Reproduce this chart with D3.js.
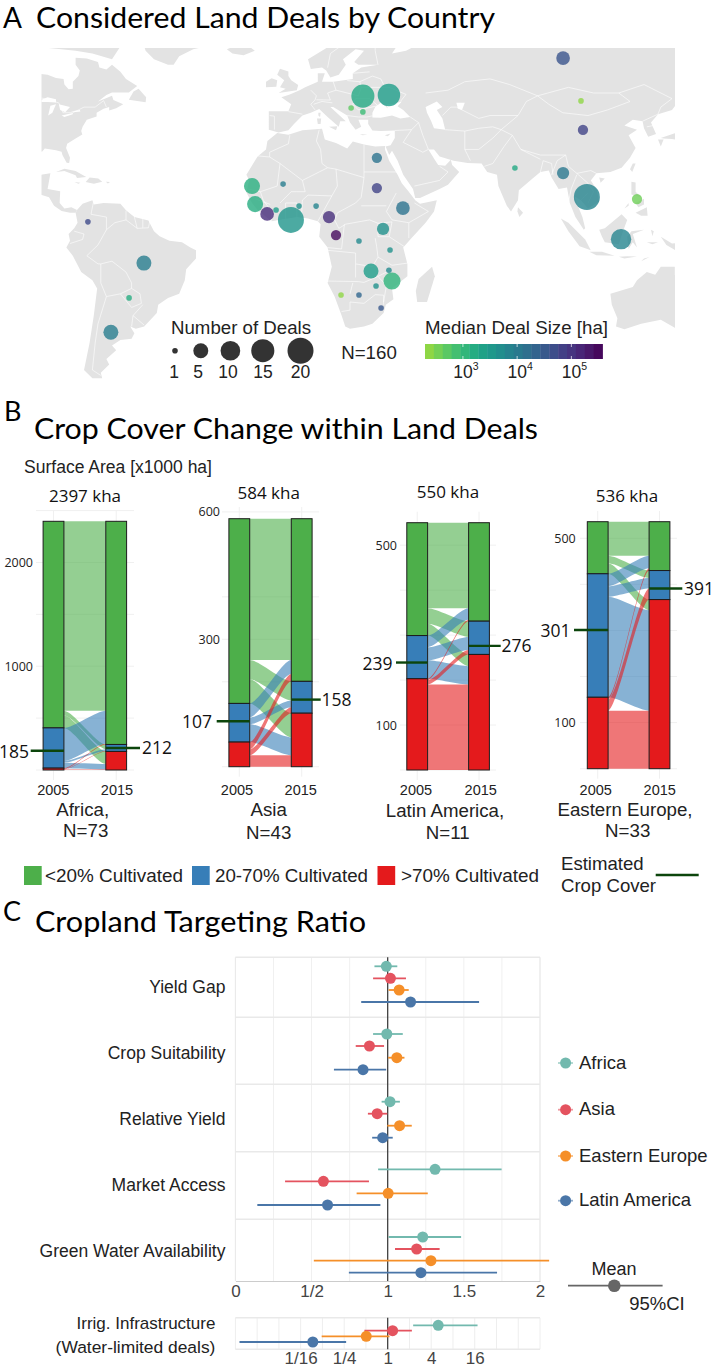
<!DOCTYPE html>
<html><head><meta charset="utf-8">
<script src="https://cdn.jsdelivr.net/npm/d3@7"></script>
<style>html,body{margin:0;padding:0;background:#fff}svg{display:block}</style>
</head><body><div id="chart"></div>
<script>
// ---------- PANEL A DATA ----------
const countries=["Russia","Mongolia","China","Ukraine","Romania","Serbia","Bulgaria","Egypt","Sudan","India","Myanmar","Cambodia","Philippines","Indonesia","Senegal","Mali","Sierra Leone","Liberia","Cote d'Ivoire","Ghana","Burkina Faso","Nigeria","Cameroon","Gabon","DR Congo","Ethiopia","Uganda","Tanzania","Zambia","Malawi","Mozambique","Zimbabwe","Namibia","Botswana","South Africa","Colombia","Brazil","Paraguay","Argentina"];
const lons=[96.1,102.5,103.2,33.9,24.6,20.4,24.6,29.6,29.6,78.9,96.1,104.6,122.5,116.8,-15,-3.9,-13.9,-9.6,-6.4,-1.1,1.8,7.9,12.5,15,23.2,38.9,31.8,34.3,27.5,33.9,35,29.3,16.8,23.2,31.1,-73.6,-53.6,-58.9,-65.4];
const lats=[62.4,47.2,36.9,49.3,48.9,44.7,43.3,27,16.3,23.4,21.6,13.1,12.4,-1.9,17,17.7,10.6,7.1,8.5,5,9.9,9.9,6,-0.4,-2.6,9.2,1.8,-5.9,-13.6,-13.3,-17.3,-19.1,-22.4,-22.4,-27.2,4.3,-10.7,-23.5,-36.1];
const dealCounts=[4,1,2,14,15,1,1,2,2,1,3,20,2,11,6,1,6,4,1,20,1,1,3,2,1,4,3,1,5,1,7,1,1,1,1,1,5,1,5];
const medianHa=[38000,240,63000,2800,1800,480,900,12800,63000,1800,10700,6900,370,6900,1400,9000,1500,128000,2800,3700,4400,6900,117000,285000,5800,12800,4400,4400,2800,5800,1170,4400,240,20000,34000,52000,9000,1500,9000];
const sizeLegend=[1,5,10,15,20];
const colorTicks=[1000,10000,100000];
const colorExponents=[3,4,5];

// ---------- BASE MAP (lon, lat) ----------
const landShapes=[
[[-100,66],[-93,62],[-94,59],[-92.5,57],[-88,56.5],[-85,55.3],[-82.3,55],[-82,53],[-80.5,51.3],[-79,51.5],[-79,54],[-77,56],[-76.5,58],[-78,60],[-78,62.5],[-74,62.2],[-70,61],[-69.5,59],[-67,58.3],[-65,60],[-62,57.5],[-60,55],[-56,52.5],[-59,50.2],[-65,50.2],[-67,49.3],[-70,47],[-65,49],[-64.5,47.5],[-61,46],[-63.5,44.6],[-66,43.8],[-66,45],[-68,44.4],[-70.5,43],[-70.5,41.7],[-74,40.5],[-75.5,38],[-76,36.5],[-75.6,35.3],[-78,33.9],[-81,32],[-81.4,30.5],[-80,27],[-80.3,25.2],[-81.2,25.3],[-82.7,28],[-83,29.2],[-85,29.7],[-89,30.3],[-90,29.2],[-94,29.6],[-97.3,27.5],[-97.8,22.5],[-95.5,19],[-91.5,18.5],[-90.5,21],[-87,21.5],[-88,16],[-83.5,15.2],[-83.7,11],[-82,9],[-79.5,9.5],[-77.5,8.5],[-78,7.5],[-80,7.5],[-83,8.2],[-85.7,10],[-87.5,13],[-92,14.5],[-96,16],[-105,20],[-110,30],[-125,50],[-125,66]],
[[-95,66],[-87,70],[-75,72],[-62,66.5],[-65,62],[-72,64],[-78,65],[-88,66]],
[[-59,47.6],[-53,46.7],[-52.8,48.5],[-55.5,51.5],[-57.3,50.5]],
[[-54,68],[-53,65],[-50,62],[-45,60],[-43,60],[-41,63],[-36,65.5],[-25,68],[-20,72],[-50,72]],
[[-24,65.5],[-22,64],[-18,63.4],[-14,65],[-16,66.5],[-22,66.3]],
[[-85,22],[-82,23.1],[-78,22.3],[-74.2,20.2],[-77.5,19.9],[-78,20.8],[-82,22.3]],
[[-74.4,18.4],[-73,20],[-69.9,19.7],[-68.5,18.5],[-71.5,17.8]],
[[-78.4,18.4],[-76.3,18.2],[-77,17.8]],[[-67.2,18.5],[-65.7,18.4],[-66.5,17.9]],
[[-77.5,8.5],[-75.5,10.7],[-72,12],[-71.5,10.5],[-68,11],[-62,10.7],[-60,8.4],[-57,6],[-52,4.8],[-50,1],[-48,-0.8],[-44.5,-2.5],[-40,-3],[-37,-5],[-35,-6],[-35,-9],[-38.5,-13],[-39,-17],[-41,-22],[-45,-23.5],[-48.5,-26],[-49,-29],[-53.5,-34],[-56.5,-34.8],[-58.5,-34],[-57,-36.5],[-58,-38.5],[-62,-39],[-65,-41],[-63.5,-42.7],[-67,-46],[-66,-48],[-69,-51],[-68.5,-53],[-72,-53],[-75,-50],[-74,-45],[-73,-40],[-71.5,-30],[-70.3,-20],[-72,-17],[-76,-14],[-79,-8],[-81.3,-5],[-80,-2.5],[-80.5,0],[-78.5,2],[-77.3,4],[-78,7.5]],
[[-6,35.8],[-2,35.2],[3,36.8],[10,37.3],[11,33.5],[15,32.3],[19,30.3],[21,32.8],[25,31.7],[29,31],[32.5,31.2],[32.5,30],[34,26],[37,21],[38.5,18],[41,15],[43.3,12],[45,10.7],[51,12],[50,8],[47,4],[42,-1.5],[39,-5],[40.5,-11],[40.5,-15.5],[35,-20],[35.5,-24],[32.8,-26],[32,-29],[28,-33],[25,-34],[20,-34.8],[18.3,-34],[17,-30],[14.5,-23],[12,-18],[13.5,-12],[12,-5],[9,-1],[9.5,3.5],[8.5,4.5],[5,5.5],[1,6],[-4,5.2],[-8,4.5],[-13,8.5],[-15,11],[-17,14.7],[-16,19],[-17,21],[-13,27.5],[-10,30],[-9.5,33]],
[[-5.5,36],[-2,36.8],[0,39],[3,42],[6,43],[9,44.3],[12,41.5],[16,38],[16.5,40],[18.5,40],[13,45],[14,45],[19,42],[20,39.5],[22,37],[24,38],[23,40.5],[26.5,40.5],[26.5,39],[28,36.7],[31,36.5],[36,36.7],[36,34],[34.5,31.5],[32.7,31],[34,28],[35,29.5],[37,26],[39,21],[42.5,16],[43.3,12.8],[45,12.8],[52,16],[55,17.5],[59,22],[56.5,24.5],[56,26.3],[54,24.2],[51.5,24.5],[50.5,26],[48,30],[50,30],[52,27.5],[57,26],[62,25.2],[67,25],[69,22],[72.5,21],[73,17],[76,10],[77.5,8],[80,12],[80.3,15.5],[85,19.5],[88,22],[91,22.5],[92,20],[94.5,16],[97.5,16.5],[98.5,11],[100.5,6],[103.5,1.5],[104,2],[103,6],[100,13.5],[102.5,12],[105,9],[109,11.5],[108,16],[106,19],[108,21.5],[113,22],[117,23.5],[120,27],[122,30.5],[119.5,35],[122.5,37],[118,38.5],[121,40.5],[124.5,40],[125,37.5],[126.5,34.5],[129.3,35.5],[127.5,39.5],[130,42.5],[135,44],[142,53],[140,60],[150,60],[160,62],[180,66],[180,75],[110,77],[70,73],[55,68],[44,67],[40,65],[35,64],[37,67],[41,66.5],[33,69.5],[25,71],[15,68],[5,62],[6,58.5],[10,59],[11.5,58],[13,55.5],[16,56.5],[18.5,60],[17.5,62],[22,65.5],[25,65],[21.5,61],[23,60],[30,60],[24,59],[21,57],[21,55],[14,54],[10,54],[11,57],[8.5,57],[8.5,54],[4,52],[2,51],[-1.5,49.5],[-4.5,48.5],[-1,46],[-2,43.5],[-9,43.5],[-9,37]],
[[-5.5,50],[1,51],[1.5,52.8],[-1,54.5],[-2,56],[-2,57.6],[-5,58.6],[-6,56.5],[-3.5,54.5],[-5,52],[-3,51.5]],
[[-10,52],[-6.3,52.2],[-6,54.5],[-8,55.2],[-10,54]],
[[12.5,38],[15.5,38.2],[15,36.8]],[[8.2,41],[9.7,41],[9.5,39],[8.5,39]],[[8.7,43],[9.5,43],[9.3,41.5],[8.7,42]],
[[23.5,35.5],[26.2,35.2],[24.5,35]],[[32.4,35],[34.5,35.6],[33.5,34.7]],
[[95.3,5.5],[98,4],[104,-2],[106,-6],[102,-4.5],[98,1]],
[[105.5,-6.5],[110,-6.5],[114.5,-8],[108,-7.8]],[[116,-8.4],[119,-8.2],[122.5,-8.3],[118,-9]],
[[109,1.5],[111,2],[114,4.5],[117,7],[119,5],[117.5,1],[116,-3.8],[111,-3],[110,-1]],
[[119.5,-5.5],[119,-1],[120.5,1],[125,1.5],[121,0],[122.5,-5],[121,-3]],
[[120.5,18.5],[122,18.3],[122,15],[124,13],[120.5,14]],[[122,7.5],[126,9.5],[126.3,6.5],[124,6.5]],[[122,11],[125,12.5],[125,10.5],[123,9.5]],[[118,9],[119.5,11],[119.5,10]],
[[127.5,1.5],[128.5,1],[128,-0.8]],[[126,-3],[130,-3],[128,-3.8]],
[[131,-1],[135,-3.5],[141,-3],[141,-9],[138,-7],[133,-4]],
[[124,-10],[127,-8.5],[125,-9]],
[[113,-22],[114.5,-21.5],[121,-19.5],[122.5,-17],[126,-14],[129,-15],[131,-12],[136,-12],[136,-15],[140,-17.5],[142,-11],[146,-19],[153,-27],[150,-37],[145,-38.5],[140,-38],[136,-34.5],[131,-31.5],[124,-33],[118,-35],[115,-34],[115.5,-31],[113.5,-26]],
[[49.3,-12],[50.3,-15.5],[47.5,-25],[44,-25],[43.5,-21],[44.5,-16.5]],
[[80,9.5],[81.8,7.5],[80.5,6],[79.8,8]],[[121,25],[122,25],[120.8,22],[120,23]],[[109,20],[111,19.7],[109.5,18.2]],
[[130,33.5],[132,33.5],[131,31]],[[131,34],[136,35.7],[140,36],[140,33],[135,33.7],[132,33.9]],[[140,41],[142,39],[140.5,37],[137,37]],
];
const waterShapes=[
[[28,41.3],[31,41.2],[35,42],[38,41],[41.5,41.5],[39,44],[37,45.3],[38.5,47],[35,46],[33,46],[33.5,44.5],[32.5,45.5],[31,46.5],[29,45],[28,43]],
[[47,45],[51,47],[53,45],[51,44],[53,41],[54,37],[50,37.5],[49,40],[47.5,43]],
[[-92,46.8],[-88,48.5],[-85,47.8],[-85,46.6],[-88,46.8]],[[-87.8,42],[-87,45.5],[-85,46],[-86.3,43]],[[-84,46],[-80,45],[-81.7,43.2],[-83.5,44]],[[-83,42],[-79,42.9],[-79,42.5],[-82,41.5]],[[-79.7,43.4],[-76.5,44],[-76.3,43.4],[-78,43.3]],
[[58,46.5],[61,46.5],[60,44],[58.5,44.5]]
];
const borderLines=[
[[-1.5,35],[-2,32],[-8.7,29],[-8.7,27.3],[-13,27.7]],[[9,37],[8,33],[9.5,30],[10,25],[12,23.5]],[[12,23.5],[3,19],[-5,25],[-8.7,27.3]],
[[25,31.7],[25,20]],[[25,22],[37,22]],[[25,20],[15,23],[12,23.5]],[[15,23],[15.5,17],[13.5,13.5]],[[3,19],[4,15],[1,15],[-1,15]],[[-5,25],[-6,17],[-12,15],[-16.5,16]],
[[3,12],[5,13.8],[13.5,13.5]],[[3,12],[2.7,6.3]],[[8.5,4.5],[13.5,13.5]],[[25,20],[24,13],[22,11]],[[22,11],[15.5,7.5],[14.5,5],[16,2],[18.5,3.5],[27,5],[30,3.8]],[[24,10],[33,10]],
[[36.5,14.5],[33,8],[35,5],[41,4],[48,8],[43,11]],[[41,4],[41,-1.5]],[[34,-1],[39.5,-4.7]],[[30,3.8],[35,4.3],[34,-1],[30,-1],[30,3.8]],[[12,-5],[17,-5.5],[18,3.5]],[[12,-6],[22,-7],[22,-11],[28,-12],[30,-8.5],[29.5,-4.5],[29,-1.5]],
[[12,-17.3],[23,-17.5],[25,-17.8]],[[22,-11],[22,-16]],[[25,-17.8],[30,-15.6],[33,-14]],[[30,-15.6],[33,-19],[32,-25]],[[17,-28.5],[20,-28],[20,-25],[25,-25.5],[29,-22.3],[32,-22.5],[32,-26]],[[20,-22],[21,-18]],[[40.5,-10.7],[35,-11.5],[30,-8.5]],
[[-5,11],[-1,15]],[[-3,5],[-3,11],[1,11],[1,6]],[[-12,15],[-11,12],[-8,8],[-8,4.5]],[[-14,12.5],[-8.5,10.5]],
[[14,54],[15,51],[23,49],[24,52],[23.5,54],[19,54.4]],[[6,51],[8,49],[7.5,47.5],[6,46],[7.5,44]],[[-2,43.4],[3,42.5]],[[-8.7,42],[-7,41.8],[-7,37]],[[7,46],[10,47],[13.7,46.5]],[[8,47.6],[13,47.5],[12,50],[15,51]],[[22,48],[27,48],[30,45.5],[23,44],[21,46],[22,48]],[[24,52],[31,52],[34,52],[40,49.5],[38,47]],[[23.5,54],[28,56],[31,55],[32,53]],[[21,57],[27,57.5]],[[30,60],[29,65],[29,70]],[[12,59],[13,64],[20,69]],[[24,66],[21,69]],[[19,42],[23,41.5],[26,41.5]],
[[26,41.5],[28,41.9]],[[36,36.7],[42,37],[44.5,39.5],[41.5,41.5]],[[42,37],[39,32.5],[46,29],[48,30]],[[44.5,39.5],[46,35],[48,30]],[[54,37],[61,36.5],[61,30],[63,26]],[[61,30],[66,30],[71,34],[74,37],[78,35],[75,31],[71,25],[68,24]],[[43,17],[52,19],[55,22],[52,24]],[[47,50],[55,51],[61,54],[70,55],[77,53],[87,49]],[[53,42],[56,45],[58,45],[66,41],[70,42],[80,42],[83,47],[87,49]],[[87,49],[98,52],[107,50],[116,50],[120,47],[112,44],[105,42],[96,43],[91,46],[87,49]],[[116,50],[125,53],[135,48],[131,45],[130,42.5]],[[74,37],[80,42]],[[78,35],[81,30],[88,28],[97,28],[98,24],[101,21.5],[106,22.5],[108,21.5]],[[81,30],[88,26.5]],[[101,21.5],[105,18],[107,15],[105,11]],[[98,11],[99,16],[101,21]],[[102.5,12],[105,14.5]],[[124.5,40],[130,42.5]],[[126,38],[128.5,38.5]],[[61,36.5],[66,37.5],[71,38],[74,37]],[[92,21],[94,26],[97,28]],[[88,22],[89,26],[92,25],[92.5,21]],
[[-71.5,12],[-72.5,7],[-67,6],[-67,1.5]],[[-67,1.5],[-70,-4]],[[-70,-4],[-74,-8],[-70,-11],[-69,-11]],[[-78.5,1],[-75,0],[-75.5,-2],[-80,-3.5]],[[-69,-11],[-65,-10],[-60,-14],[-58,-18],[-58,-20],[-62,-22],[-67,-23],[-69,-18],[-69,-11]],[[-67,1.5],[-64,4],[-60,5],[-56,2],[-52,2.2],[-51.5,4.5]],[[-60,5],[-60,8.3]],[[-57,6],[-56,2]],[[-54,5.8],[-54,2.2]],[[-67,-23],[-70,-33],[-71,-40],[-72,-50],[-69,-52]],[[-62,-22],[-58,-27],[-54.5,-25.5],[-55,-22],[-58,-20]],[[-58,-34],[-57.5,-30],[-53.5,-33.5]],[[-57.5,-30],[-54,-26]],
[[-95,49],[-89,48],[-84,46.5],[-82.5,43],[-79,43],[-75,45],[-71,45],[-68,47.3],[-67,45]],[[-97.2,26],[-101,29.7],[-106,31.8]]
];

// ---------- PANEL B DATA ----------
const coverClasses=["G","B","R"];
const coverLabels=["<20% Cultivated","20-70% Cultivated",">70% Cultivated"];
const coverColors=["#4daf4a","#377eb8","#e41a1c"];
const years=[2005,2015];
const africaFlows=[["G","G",1825],["G","B",45],["G","R",121],["B","G",318],["B","B",18],["B","R",52],["R","G",8],["R","B",4],["R","R",6]];
const asiaFlows=[["G","G",333],["G","B",45],["G","R",57],["B","G",33],["B","B",16],["B","R",42],["R","G",17],["R","B",14],["R","R",27]];
const latinFlows=[["G","G",190],["G","B",35],["G","R",26],["B","G",26],["B","B",29],["B","R",41],["R","G",3],["R","B",10],["R","R",190]];
const easternFlows=[["G","G",74],["G","B",16],["G","R",23],["B","G",27],["B","B",23],["B","R",218],["R","G",5],["R","B",24],["R","R",126]];
const regionNames=["Africa,","Asia","Latin America,","Eastern Europe,"];
const regionN=["N=73","N=43","N=11","N=33"];
const regionTotals=["2397 kha","584 kha","550 kha","536 kha"];
const cropCover2005=[185,107,239,301];
const cropCover2015=[212,158,276,391];

// ---------- PANEL C DATA ----------
const traits=["Yield Gap","Crop Suitability","Relative Yield","Market Access","Green Water Availability"];
const regionsC=["Africa","Asia","Eastern Europe","Latin America"];
const regionColors=["#72b9ae","#e4535f","#f58f29","#4a76a8"];
const meanValues=[[.991,1.018,1.075,1.15],[.994,.88,1.06,.838],[1.015,.931,1.078,.967],[1.311,.578,1.003,.605],[1.23,1.19,1.284,1.218]];
const lowValues=[[.913,.904,1.006,.826],[.904,.79,1.003,.647],[.96,.87,.997,.898],[.937,.326,.796,.144],[1.006,1.048,.515,.745]];
const highValues=[[1.063,1.12,1.138,1.6],[1.099,.976,1.11,.99],[1.08,.997,1.158,1.033],[1.748,.877,1.263,.952],[1.482,1.341,2.06,1.718]];
const irrigMean=[5.0,1.17,.505,.092];
const irrigLow=[2.25,.476,.122,.0089];
const irrigHigh=[17.5,2.16,1.06,.266];
const ratioTicks=[0,.5,1,1.5,2];
const ratioTickLabels=["0","1/2","1","1.5","2"];
const irrigTicks=[1/16,1/4,1,4,16];
const irrigTickLabels=["1/16","1/4","1","4","16"];

// ---------- HELPERS ----------
const svg=d3.select("#chart").append("svg").attr("width",714).attr("height",1370).attr("viewBox","0 0 714 1370");
const sans="'Liberation Sans',Arial,sans-serif", human="'Open Sans','Noto Sans',sans-serif", head="Lato,'Open Sans',sans-serif";
function txt(x,y,s,o={}){
  const t=svg.append("text").attr("x",x).attr("y",y).text(s)
    .attr("font-family",o.font||sans).attr("font-size",o.size||17).attr("fill",o.fill||"#222")
    .attr("text-anchor",o.anchor||"start").attr("font-weight",o.weight||400);
  if(!o.base)t.attr("dominant-baseline","central");
  if(o.len)t.attr("textLength",o.len).attr("lengthAdjust","spacingAndGlyphs");
  return t;
}

// ---------- PANEL A ----------
txt(3,27.5,"A",{font:head,size:28,base:1,fill:"#000"});
txt(36,27.5,"Considered Land Deals by Country",{font:head,size:28,base:1,fill:"#000",len:459});
const lonX=d3.scaleLinear().domain([0,100]).range([294,574]);
const latY=d3.scaleLinear().domain([-60,0,50]).range([397.2,234,93]);
const defs=svg.append("defs");
defs.append("clipPath").attr("id","mapclip").append("rect").attr("x",41.5).attr("y",48).attr("width",633.5).attr("height",331);
const mapG=svg.append("g").attr("clip-path","url(#mapclip)");
const geoLine=d3.line().x(d=>lonX(d[0])).y(d=>latY(d[1]));
mapG.selectAll("path.land").data(landShapes).join("path").attr("class","land")
  .attr("d",d=>geoLine(d)+"Z").attr("fill","#e3e3e3");
mapG.selectAll("path.water").data(waterShapes).join("path").attr("class","water")
  .attr("d",d=>geoLine(d)+"Z").attr("fill","#fff");
mapG.selectAll("path.border").data(borderLines).join("path").attr("class","border")
  .attr("d",geoLine).attr("fill","none").attr("stroke","#fff").attr("stroke-width",.7).attr("stroke-opacity",.85);
const sizeScale=d3.scaleSqrt().domain([0,19]).range([2.8,13]);
const colorPos=d3.scaleLog().domain([200,375000]).range([.85,0]);
const dealColor=v=>d3.interpolateViridis(colorPos(v));
mapG.selectAll("circle.deal").data(countries.map((c,i)=>i)).join("circle").attr("class","deal")
  .sort((a,b)=>dealCounts[b]-dealCounts[a])
  .attr("cx",i=>lonX(lons[i])).attr("cy",i=>latY(lats[i])).attr("r",i=>sizeScale(dealCounts[i]-1))
  .attr("fill",i=>dealColor(medianHa[i])).attr("fill-opacity",.8);
// size legend
txt(171,328,"Number of Deals",{size:17.5,len:140});
const legendCx=[175,200.8,230.4,262.8,300.5], legendTx=[174,198,228,263,300.5];
sizeLegend.forEach((n,i)=>{
  svg.append("circle").attr("cx",legendCx[i]).attr("cy",350.7).attr("r",sizeScale(n-1)).attr("fill","#333");
  txt(legendTx[i],372,n,{size:17.5,anchor:"middle"});
});
txt(369,352.5,"N=160",{size:18.7,anchor:"middle"});
// colour legend
txt(425,328,"Median Deal Size [ha]",{size:17.5,len:183});
const barX=d3.scaleLog().domain([200,375000]).range([425,602.5]);
const binEdges=d3.range(21).map(i=>Math.pow(10,Math.log10(200)+i*(Math.log10(375000)-Math.log10(200))/20));
svg.selectAll("rect.bin").data(d3.pairs(binEdges)).join("rect").attr("class","bin")
  .attr("x",d=>barX(d[0])).attr("width",d=>barX(d[1])-barX(d[0])+.4).attr("y",344).attr("height",15)
  .attr("fill",d=>dealColor(Math.sqrt(d[0]*d[1])));
colorTicks.forEach((v,i)=>{
  svg.append("line").attr("x1",barX(v)).attr("x2",barX(v)).attr("y1",344).attr("y2",347).attr("stroke","#fff").attr("stroke-width",.7);
  svg.append("line").attr("x1",barX(v)).attr("x2",barX(v)).attr("y1",356).attr("y2",359).attr("stroke","#fff").attr("stroke-width",.7);
  const t=txt(barX(v)+3,372,"10",{size:17.5,anchor:"middle"});
  t.append("tspan").attr("dy",-6).attr("font-size",10.5).text(colorExponents[i]);
});

// ---------- PANEL B ----------
txt(4,421,"B",{font:head,size:27,base:1,fill:"#000"});
txt(34,439,"Crop Cover Change within Land Deals",{font:head,size:28,base:1,fill:"#000",len:504});
txt(24,467,"Surface Area [x1000 ha]",{size:17.5,len:188});
const alluvialPanels=[
 {flows:africaFlows,left:53.5,right:116.2,top:521.3,bottom:770,grid:[2500,2000,1500,1000,500,0],ticks:[2000,1000],gx:[36,134],axisX:33,topLabel:[85,495],yearY:790,yearX:[53.3,117],nameX:82.7,nameY:809.3,nX:85.7,nY:830.5,c05:[30.7,29],c15:[140,142],gridTop:510},
 {flows:asiaFlows,left:239.3,right:301.7,top:518.7,bottom:766.7,grid:[600,400,300,200,0],ticks:[600,300],gx:[222,319],axisX:220,topLabel:[268.7,492],yearY:790,yearX:[237,300.7],nameX:268.7,nameY:809.3,nX:268.7,nY:832,c05:[216.7,212],c15:[320.7,321.5],gridTop:507},
 {flows:latinFlows,left:417.2,right:479,top:522.7,bottom:770,grid:[500,400,300,200,100,0],ticks:[500,100],gx:[400,496],axisX:397,topLabel:[448,491.7],yearY:789.5,yearX:[416,480.7],nameX:445,nameY:810.7,nX:447.7,nY:832.7,c05:[396,392.5],c15:[500.7,501.5],gridTop:511.7},
 {flows:easternFlows,left:597.7,right:659.5,top:521.7,bottom:768.7,grid:[500,400,300,200,100,0],ticks:[500,100],gx:[580,677],axisX:575.7,topLabel:[627,495],yearY:789.5,yearX:[595.7,659.7],nameX:625,nameY:809,nX:627.7,nY:830.5,c05:[574,570.5],c15:[682.3,684],gridTop:511}
];
const barW=20.8;
const clsColor=d3.scaleOrdinal().domain(coverClasses).range(coverColors);
function flowPath(x0,x1,la,lb,ra,rb){
  const k=(x1-x0)*.22,p=d3.path();
  p.moveTo(x0,la);
  p.bezierCurveTo(x0+k,la,x1-k,ra,x1,ra);
  p.lineTo(x1,rb);
  p.bezierCurveTo(x1-k,rb,x0+k,lb,x0,lb);
  p.closePath();
  return p.toString();
}
alluvialPanels.forEach((p,pi)=>{
  const total=d3.sum(p.flows,f=>f[2]);
  const y=d3.scaleLinear().domain([0,total]).range([p.bottom,p.top]);
  const x=d3.scaleLinear().domain(years).range([p.left,p.right]);
  const g=svg.append("g");
  g.selectAll("line.h").data(p.grid).join("line").attr("class","h")
    .attr("x1",p.gx[0]).attr("x2",p.gx[1]).attr("y1",y).attr("y2",y).attr("stroke","#f0f0f0").attr("stroke-width",1);
  g.selectAll("line.v").data(years).join("line").attr("class","v")
    .attr("x1",x).attr("x2",x).attr("y1",p.gridTop).attr("y2",p.bottom+10).attr("stroke","#f0f0f0").attr("stroke-width",1);
  let cumL=0,cumR=0;
  const order=[...coverClasses].reverse();
  const leftPos=new Map(),rightPos=new Map();
  order.forEach(c=>{
    coverClasses.slice().reverse().forEach(d=>{
      const f=p.flows.find(q=>q[0]===c&&q[1]===d);
      leftPos.set(c+d,[cumL,cumL+f[2]]);cumL+=f[2];
    });
  });
  order.forEach(d=>{
    coverClasses.slice().reverse().forEach(c=>{
      const f=p.flows.find(q=>q[0]===c&&q[1]===d);
      rightPos.set(c+d,[cumR,cumR+f[2]]);cumR+=f[2];
    });
  });
  const x0=p.left+barW/2,x1=p.right-barW/2;
  g.selectAll("path.flow").data(p.flows).join("path").attr("class","flow")
    .attr("d",f=>{const k=f[0]+f[1],L=leftPos.get(k),R=rightPos.get(k);
      return flowPath(x0,x1,y(L[0]),y(L[1]),y(R[0]),y(R[1]));})
    .attr("fill",f=>clsColor(f[0])).attr("fill-opacity",.6);
  years.forEach((yr,yi)=>{
    coverClasses.forEach(c=>{
      const flows=p.flows.filter(f=>f[yi]===c);
      const pos=yi===0?leftPos:rightPos;
      const lo=d3.min(flows,f=>pos.get(f[0]+f[1])[0]),hi=d3.max(flows,f=>pos.get(f[0]+f[1])[1]);
      g.append("rect").attr("x",x(yr)-barW/2).attr("width",barW).attr("y",y(hi)).attr("height",y(lo)-y(hi))
        .attr("fill",clsColor(c)).attr("stroke","#1c1c1c").attr("stroke-width",1);
    });
    txt(p.yearX[yi],p.yearY,yr,{size:14.5,anchor:"middle"});
  });
  const ax=svg.append("g").attr("transform",`translate(${p.axisX},0)`)
    .call(d3.axisLeft(y).tickValues(p.ticks).tickSize(0).tickPadding(0).tickFormat(d3.format("d")));
  ax.select(".domain").remove();
  ax.selectAll("text").attr("font-family",human).attr("font-size",12.5).attr("fill","#222");
  const cc="#0c450c";
  g.append("line").attr("x1",p.c05[0]).attr("x2",x(2005)+barW/2).attr("y1",y(cropCover2005[pi])).attr("y2",y(cropCover2005[pi])).attr("stroke",cc).attr("stroke-width",2.4);
  g.append("line").attr("x1",x(2015)-barW/2).attr("x2",p.c15[0]).attr("y1",y(cropCover2015[pi])).attr("y2",y(cropCover2015[pi])).attr("stroke",cc).attr("stroke-width",2.4);
  txt(p.c05[1],y(cropCover2005[pi]),cropCover2005[pi],{font:human,size:17.5,anchor:"end",fill:"#111"});
  txt(p.c15[1],y(cropCover2015[pi])-1,cropCover2015[pi],{font:human,size:17.5,fill:"#111"});
  txt(p.topLabel[0],p.topLabel[1],regionTotals[pi],{font:human,size:17,anchor:"middle",fill:"#111"});
  txt(p.nameX,p.nameY,regionNames[pi],{size:18.7,anchor:"middle"});
  txt(p.nX,p.nY,regionN[pi],{size:18.7,anchor:"middle"});
});
const swX=[24,192,377.5], lbX=[45,215,401], lbLen=[138,153,138];
coverLabels.forEach((l,i)=>{
  svg.append("rect").attr("x",swX[i]).attr("y",866).attr("width",17.7).attr("height",19).attr("fill",coverColors[i]);
  txt(lbX[i],875.5,l,{size:17.5,len:lbLen[i]});
});
txt(561,863,"Estimated",{size:18.6});
txt(561,885,"Crop Cover",{size:18.6});
svg.append("line").attr("x1",655.7).attr("x2",698.7).attr("y1",875).attr("y2",875).attr("stroke","#0c450c").attr("stroke-width",2.4);

// ---------- PANEL C ----------
txt(3,921,"C",{font:head,size:27,base:1,fill:"#000"});
txt(35,932,"Cropland Targeting Ratio",{font:head,size:28,base:1,fill:"#000",len:331});
const rx=d3.scaleLinear().domain([0,2]).range([235.4,540]);
const labelYs=[986.7,1052.7,1118.7,1184.7,1250.7];
const rowYs=[[966.3,978.3,990,1002],[1034,1046,1057.7,1069.7],[1101.7,1113.7,1125.7,1137.7],[1169.3,1181.3,1193.3,1205],[1237,1249,1260.7,1272.7]];
const gridC=svg.append("g");
gridC.selectAll("line.v").data(d3.range(0,2.01,.25)).join("line").attr("class","v")
  .attr("x1",rx).attr("x2",rx).attr("y1",957.3).attr("y2",1281).attr("stroke","#f0f0f0").attr("stroke-width",1);
gridC.selectAll("line.h").data([957.3,1017.3,1084.3,1151.7,1219.3]).join("line").attr("class","h")
  .attr("x1",235.4).attr("x2",540).attr("y1",d=>d).attr("y2",d=>d).attr("stroke","#e9e9e9").attr("stroke-width",1.5);
gridC.append("line").attr("x1",235.4).attr("x2",235.4).attr("y1",957.3).attr("y2",1281).attr("stroke","#e9e9e9").attr("stroke-width",1);
gridC.append("line").attr("x1",540).attr("x2",540).attr("y1",957.3).attr("y2",1281).attr("stroke","#e9e9e9").attr("stroke-width",1);
const axC=svg.append("g").attr("transform","translate(0,1281)")
  .call(d3.axisBottom(rx).tickValues(ratioTicks).tickSize(0).tickPadding(4).tickFormat((d,i)=>ratioTickLabels[i]));
axC.select(".domain").attr("stroke","#ccc");
axC.selectAll("text").attr("font-family",sans).attr("font-size",17).attr("fill","#444");
svg.append("line").attr("x1",rx(1)).attr("x2",rx(1)).attr("y1",957.3).attr("y2",1281).attr("stroke","#333").attr("stroke-width",1.2);
traits.forEach((tr,ti)=>{
  txt(225.4,labelYs[ti],tr,{size:17.5,anchor:"end",fill:"#222"});
  regionsC.forEach((r,ri)=>{
    const yy=rowYs[ti][ri];
    svg.append("line").attr("x1",rx(lowValues[ti][ri])).attr("x2",rx(highValues[ti][ri])).attr("y1",yy).attr("y2",yy)
      .attr("stroke",regionColors[ri]).attr("stroke-width",1.8);
    svg.append("circle").attr("cx",rx(meanValues[ti][ri])).attr("cy",yy).attr("r",5.5).attr("fill",regionColors[ri]);
  });
});
const legY=[1063,1109.7,1156,1200.7];
regionsC.forEach((r,i)=>{
  svg.append("line").attr("x1",558).attr("x2",573).attr("y1",legY[i]).attr("y2",legY[i]).attr("stroke",regionColors[i]).attr("stroke-width",1.8).attr("stroke-opacity",.6);
  svg.append("circle").attr("cx",565.6).attr("cy",legY[i]).attr("r",5.5).attr("fill",regionColors[i]);
  txt(579,legY[i]-1,r,{size:18.5});
});
txt(614,1269,"Mean",{size:18,anchor:"middle"});
svg.append("line").attr("x1",568).attr("x2",662.6).attr("y1",1285.7).attr("y2",1285.7).attr("stroke","#666").attr("stroke-width",1.8);
svg.append("circle").attr("cx",614.3).attr("cy",1285.7).attr("r",6.3).attr("fill","#666");
txt(657,1303,"95%CI",{size:18.5,anchor:"middle"});
const ix=d3.scaleLog().base(2).domain([1/128,128]).range([235.4,540]);
const irrigRows=[1325.3,1330.7,1336.3,1342];
const gridI=svg.append("g");
gridI.selectAll("line.v").data(d3.range(-7,8).map(e=>Math.pow(2,e))).join("line").attr("class","v")
  .attr("x1",ix).attr("x2",ix).attr("y1",1317.7).attr("y2",1349.3).attr("stroke","#eeeeee").attr("stroke-width",1);
gridI.selectAll("line.h").data([1317.7,1349.3]).join("line").attr("class","h")
  .attr("x1",235.4).attr("x2",540).attr("y1",d=>d).attr("y2",d=>d).attr("stroke","#e9e9e9").attr("stroke-width",1.5);
const axI=svg.append("g").attr("transform","translate(0,1349.3)")
  .call(d3.axisBottom(ix).tickValues(irrigTicks).tickSize(0).tickPadding(3).tickFormat((d,i)=>irrigTickLabels[i]));
axI.select(".domain").remove();
axI.selectAll("text").attr("font-family",sans).attr("font-size",17).attr("fill","#444");
svg.append("line").attr("x1",ix(1)).attr("x2",ix(1)).attr("y1",1317.7).attr("y2",1349.3).attr("stroke","#333").attr("stroke-width",1.2);
regionsC.forEach((r,i)=>{
  svg.append("line").attr("x1",ix(irrigLow[i])).attr("x2",ix(irrigHigh[i])).attr("y1",irrigRows[i]).attr("y2",irrigRows[i]).attr("stroke",regionColors[i]).attr("stroke-width",1.8);
  svg.append("circle").attr("cx",ix(irrigMean[i])).attr("cy",irrigRows[i]).attr("r",5.5).attr("fill",regionColors[i]);
});
txt(215.4,1323,"Irrig. Infrastructure",{size:17,anchor:"end"});
txt(215.4,1346.7,"(Water-limited deals)",{size:17.4,anchor:"end"});
</script></body></html>
